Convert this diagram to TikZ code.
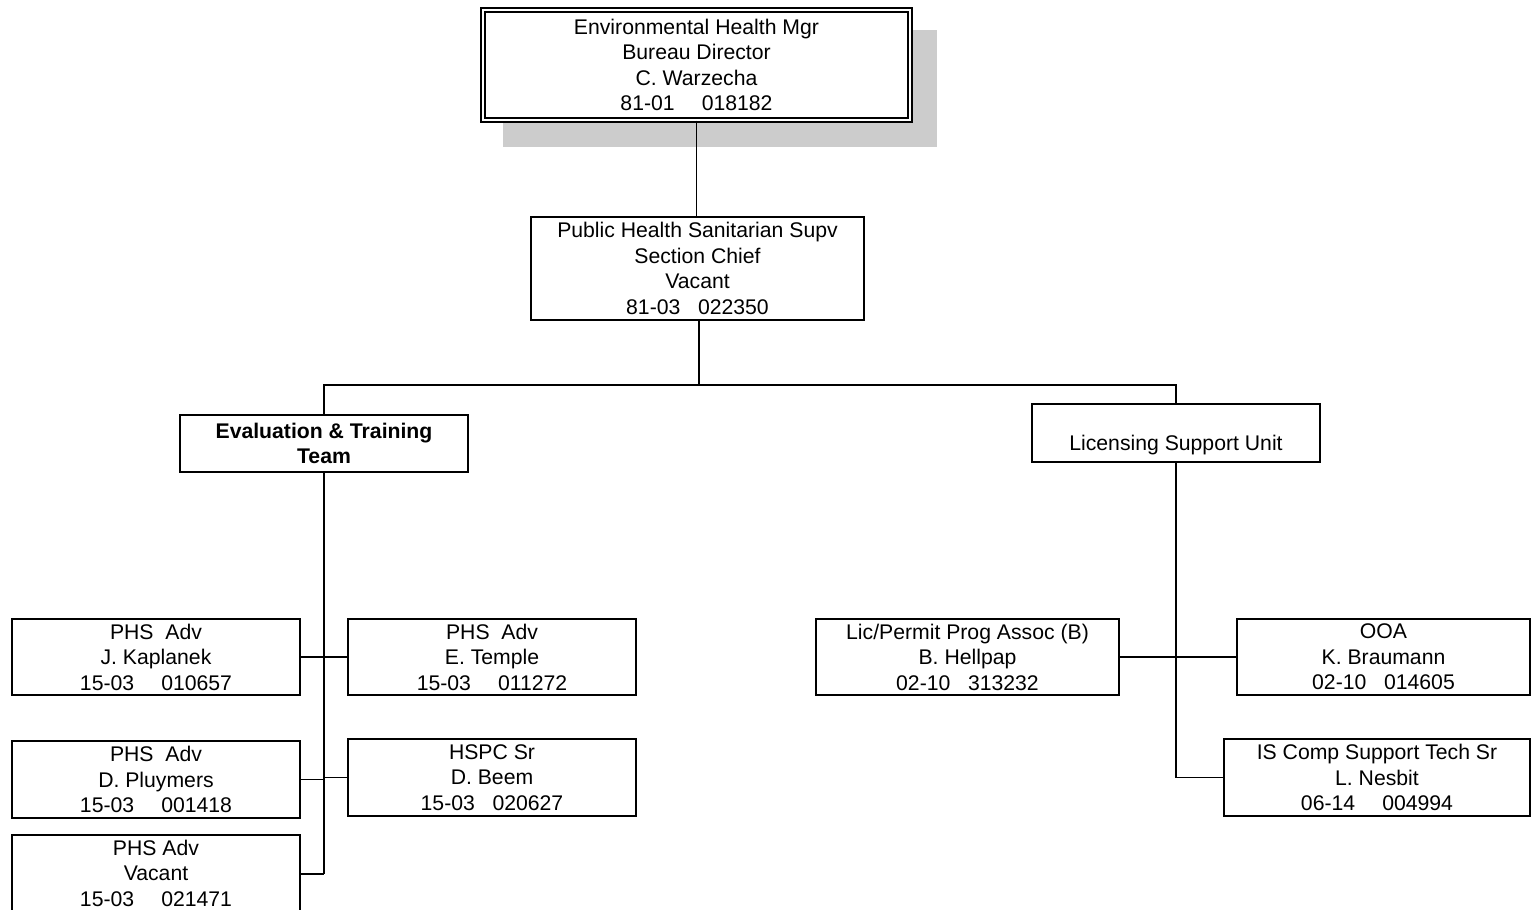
\documentclass[tikz,border=0pt]{standalone}
\usepackage{fontspec}
\setmainfont{Liberation Sans}
\begin{document}
\begin{tikzpicture}[x=1pt,y=-1pt,
  box/.style={draw, line width=1.5pt, fill=white, align=center, inner sep=0pt,
    font=\fontsize{21.2}{25.5}\selectfont},
  conn/.style={line width=1.5pt},
  shadowgray/.style={fill=black!20}]
\useasboundingbox (0,0) rectangle (1531,910);
% shadow of top box
\fill[shadowgray] (503,30) rectangle (937,147);
% nodes
\node[box, double, line width=1.2pt, double distance=2.8pt, minimum width=427pt, minimum height=110pt] (top) at (696.5,65)
  {Environmental Health Mgr\\Bureau Director\\C. Warzecha\\81-01\quad\ 018182};
\node[box, minimum width=333pt, minimum height=103pt] (sec) at (697.5,268.5)
  {Public Health Sanitarian Supv\\Section Chief\\Vacant\\81-03\ \ \ 022350};
\node[box, minimum width=288pt, minimum height=57pt, font=\fontsize{21.2}{25.5}\selectfont\bfseries] (eval) at (324,443.5)
  {Evaluation \& Training\\Team};
\node[box, minimum width=288pt, minimum height=58pt] (lic) at (1176,433)
  {\strut\\Licensing Support Unit\strut};
\node[box, minimum width=288pt, minimum height=76pt] (kap) at (156,657)
  {PHS\ \ Adv\\J. Kaplanek\\15-03\quad\ 010657};
\node[box, minimum width=288pt, minimum height=76pt] (tem) at (492,657)
  {PHS\ \ Adv\\E. Temple\\15-03\quad\ 011272};
\node[box, minimum width=288pt, minimum height=77pt] (plu) at (156,779.5)
  {PHS\ \ Adv\\D. Pluymers\\15-03\quad\ 001418};
\node[box, minimum width=288pt, minimum height=77pt] (bee) at (492,777.5)
  {HSPC Sr\\D. Beem\\15-03\ \ \ 020627};
\node[box, minimum width=288pt, minimum height=76pt] (vac) at (156,873)
  {PHS Adv\\Vacant\\15-03\quad\ 021471};
\node[box, minimum width=303pt, minimum height=76pt] (hel) at (967.5,657)
  {Lic/Permit Prog Assoc (B)\\B. Hellpap\\02-10\ \ \ 313232};
\node[box, minimum width=293pt, minimum height=76pt] (bra) at (1383.5,657)
  {OOA\\K. Braumann\\02-10\ \ \ 014605};
\node[box, minimum width=306pt, minimum height=77pt] (isc) at (1377,777.5)
  {IS Comp Support Tech Sr\\L. Nesbit\\06-14\quad\ 004994};
% connectors
\coordinate (j) at (699,385);
\draw[conn] (top.south) -- (top.south |- sec.north);
\draw[conn] (j |- sec.south) -- (j);
\draw[conn] (eval.north) -- (eval.north |- j) -- (lic.north |- j) -- (lic.north);
\draw[line width=2.6pt] (j) -- ++(36,0);
% evaluation team branch
\coordinate (evbot) at (324,874);
\draw[line width=2.2pt] (eval.south) -- (evbot);
\draw[conn] (vac.east |- evbot) -- (evbot);
\draw[conn] (kap.east) -- (tem.west);
\draw[conn] (plu.east) -- (eval.south |- plu.east);
\draw[conn] (bee.west) -- (eval.south |- bee.west);
% licensing branch
\draw[conn] (lic.south) -- (lic.south |- isc.west) -- (isc.west);
\draw[conn] (hel.east) -- (bra.west);
\end{tikzpicture}
\end{document}
